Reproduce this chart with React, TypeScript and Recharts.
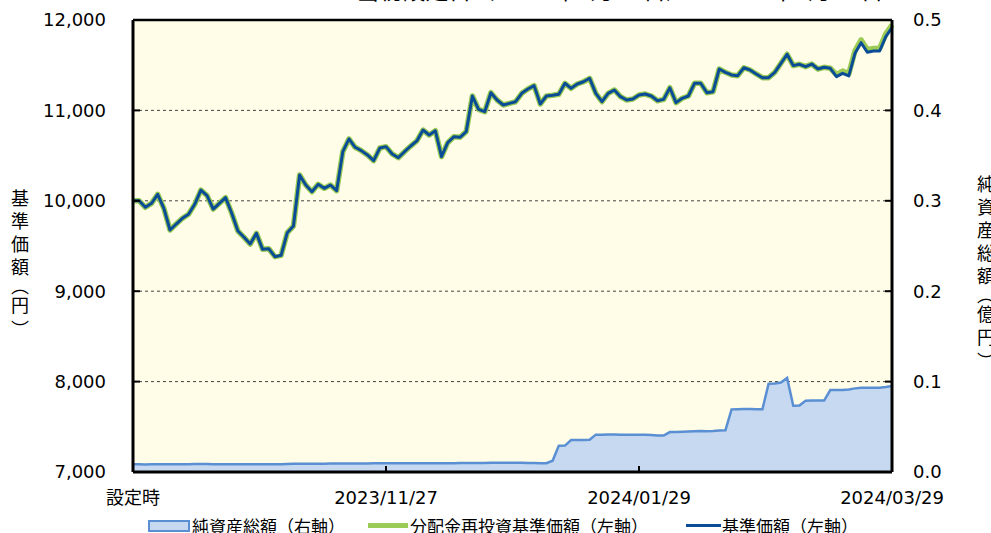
import {
  Area, CartesianGrid, ComposedChart, Line, ReferenceLine, XAxis, YAxis,
} from 'recharts';

// 基準価額 (yen), one value per business day from 設定時 to 2024/03/29
const baseNav = [
  10000, 10000, 9928, 9972, 10072, 9917, 9677, 9743, 9806, 9851,
  9961, 10119, 10057, 9909, 9972, 10035, 9862, 9666, 9596, 9522,
  9640, 9463, 9470, 9382, 9397, 9647, 9721, 10285, 10175, 10100,
  10182, 10138, 10175, 10112, 10543, 10684, 10592, 10555, 10507, 10444,
  10584, 10599, 10518, 10477, 10543, 10606, 10662, 10783, 10728, 10775,
  10488, 10643, 10709, 10702, 10765, 11159, 11012, 10986, 11196, 11115,
  11060, 11078, 11096, 11189, 11237, 11274, 11071, 11159, 11167, 11178,
  11300, 11244, 11292, 11317, 11355, 11189, 11096, 11189, 11226, 11152,
  11115, 11126, 11170, 11181, 11159, 11107, 11122, 11251, 11086, 11134,
  11159, 11300, 11300, 11196, 11207, 11458, 11421, 11392, 11384, 11472,
  11447, 11403, 11362, 11362, 11421, 11521, 11621, 11495, 11510, 11484,
  11513, 11458, 11477, 11466, 11373, 11410, 11381, 11631, 11749, 11643,
  11657, 11657, 11816, 11915,
];

// 分配金再投資基準価額 (yen)
const reinvestNav = [
  10000, 10000, 9928, 9972, 10072, 9917, 9677, 9743, 9806, 9851,
  9961, 10119, 10057, 9909, 9972, 10035, 9862, 9666, 9596, 9522,
  9640, 9463, 9470, 9382, 9397, 9647, 9721, 10285, 10175, 10100,
  10182, 10138, 10175, 10112, 10543, 10684, 10592, 10555, 10507, 10444,
  10584, 10599, 10518, 10477, 10543, 10606, 10662, 10783, 10728, 10775,
  10488, 10643, 10709, 10702, 10765, 11159, 11012, 10986, 11196, 11115,
  11060, 11078, 11096, 11189, 11237, 11274, 11071, 11159, 11167, 11178,
  11300, 11244, 11292, 11317, 11355, 11189, 11096, 11189, 11226, 11152,
  11115, 11126, 11170, 11181, 11159, 11107, 11122, 11251, 11086, 11134,
  11159, 11300, 11300, 11196, 11207, 11458, 11421, 11392, 11384, 11472,
  11447, 11403, 11362, 11362, 11421, 11521, 11621, 11495, 11510, 11484,
  11513, 11458, 11477, 11466, 11395, 11435, 11405, 11660, 11780, 11672,
  11686, 11686, 11846, 11945,
];

// 純資産総額 (億円)
const netAssets = [
  0.0085, 0.0085, 0.0084, 0.0085, 0.0086, 0.0086, 0.0085, 0.0086, 0.0087, 0.0087,
  0.0088, 0.0089, 0.0088, 0.0087, 0.0087, 0.0086, 0.0086, 0.0086, 0.0086, 0.0086,
  0.0086, 0.0086, 0.0086, 0.0086, 0.0087, 0.0089, 0.0090, 0.0092, 0.0092, 0.0091,
  0.0091, 0.0092, 0.0093, 0.0094, 0.0094, 0.0095, 0.0095, 0.0094, 0.0095, 0.0096,
  0.0096, 0.0096, 0.0096, 0.0097, 0.0097, 0.0097, 0.0098, 0.0098, 0.0098, 0.0097,
  0.0097, 0.0098, 0.0098, 0.0099, 0.0099, 0.0100, 0.0100, 0.0100, 0.0101, 0.0101,
  0.0101, 0.0102, 0.0102, 0.0101, 0.0100, 0.0099, 0.0098, 0.0098, 0.0125, 0.0290,
  0.0292, 0.0354, 0.0355, 0.0355, 0.0356, 0.0413, 0.0413, 0.0414, 0.0414, 0.0413,
  0.0412, 0.0412, 0.0412, 0.0411, 0.0410, 0.0405, 0.0403, 0.0442, 0.0443, 0.0446,
  0.0449, 0.0452, 0.0453, 0.0452, 0.0454, 0.0458, 0.0461, 0.0693, 0.0695, 0.0696,
  0.0696, 0.0694, 0.0693, 0.0977, 0.0979, 0.0990, 0.1040, 0.0733, 0.0735, 0.0789,
  0.0790, 0.0790, 0.0790, 0.0907, 0.0907, 0.0908, 0.0912, 0.0925, 0.0933, 0.0933,
  0.0932, 0.0933, 0.0940, 0.0952,
];

const xTickIndex = [0, 41, 82, 123];
const xTickLabels = ['設定時', '2023/11/27', '2024/01/29', '2024/03/29'];
const leftTicks = [7000, 8000, 9000, 10000, 11000, 12000];
const rightTicks = [0, 0.1, 0.2, 0.3, 0.4, 0.5];

const data = baseNav.map((nav, i) => ({
  i,
  nav,
  reinvest: reinvestNav[i],
  assets: netAssets[i],
}));

const FONT = "'DejaVu Sans', 'Noto Sans CJK JP', sans-serif";
const CJK = "'Noto Sans CJK JP', sans-serif";
const tickStyle = { fill: '#000', fontSize: 18, fontFamily: FONT };

const verticalTitle: React.CSSProperties = {
  position: 'absolute',
  writingMode: 'vertical-rl',
  fontFamily: CJK,
  fontSize: 18,
  letterSpacing: 5,
  lineHeight: 1,
  color: '#000',
  whiteSpace: 'nowrap',
};
// vertical bracket glyphs sit at one end of their em box; pull them in a little
const openParen: React.CSSProperties = { letterSpacing: -3, position: 'relative', top: -4 };
const closeParen: React.CSSProperties = { letterSpacing: -3, position: 'relative', top: 1 };

const legendText: React.CSSProperties = {
  position: 'absolute',
  top: 516,
  fontFamily: CJK,
  fontSize: 17,
  lineHeight: '20px',
  color: '#000',
  whiteSpace: 'nowrap',
};

export default function App() {
  return (
    <div
      style={{
        position: 'absolute', left: 0, top: 0, width: 991, height: 533,
        overflow: 'hidden', background: '#fff',
      }}
    >
      <div
        style={{
          position: 'absolute', left: 0, width: 1240, top: -20, textAlign: 'center',
          fontFamily: FONT, fontSize: 23, lineHeight: 1, whiteSpace: 'nowrap',
        }}
      >
        当初設定日（2023年9月29日）～2024年3月29日
      </div>

      <ComposedChart
        width={991}
        height={533}
        data={data}
        margin={{ top: 20, right: 0, bottom: 21, left: 0 }}
      >
        <CartesianGrid
          yAxisId="left"
          vertical={false}
          fill="#FFFDE8"
          stroke="#444"
          strokeDasharray="3 3"
        />
        <XAxis
          dataKey="i"
          type="number"
          domain={[0, 123]}
          ticks={xTickIndex}
          tickFormatter={(v: number) => xTickLabels[xTickIndex.indexOf(v)] ?? ''}
          interval={0}
          height={40}
          tick={tickStyle}
          tickSize={-6}
          tickMargin={25}
          tickLine={{ stroke: '#000', strokeWidth: 2 }}
          axisLine={{ stroke: '#000', strokeWidth: 3 }}
        />
        <YAxis
          yAxisId="left"
          domain={[7000, 12000]}
          ticks={leftTicks}
          width={133}
          tick={tickStyle}
          tickSize={-7}
          tickMargin={34}
          tickFormatter={(v: number) => v.toLocaleString('en-US')}
          tickLine={{ stroke: '#000', strokeWidth: 2 }}
          axisLine={{ stroke: '#000', strokeWidth: 3 }}
        />
        <YAxis
          yAxisId="right"
          orientation="right"
          domain={[0, 0.5]}
          ticks={rightTicks}
          width={99}
          tick={{ ...tickStyle, textAnchor: 'start' }}
          tickSize={-7}
          tickMargin={28}
          tickFormatter={(v: number) => v.toFixed(1)}
          tickLine={{ stroke: '#000', strokeWidth: 2 }}
          axisLine={{ stroke: '#000', strokeWidth: 3 }}
        />
        <Area
          yAxisId="right"
          type="linear"
          dataKey="assets"
          fill="#C6D9F0"
          fillOpacity={1}
          stroke="#5A8FD3"
          strokeWidth={2.5}
          isAnimationActive={false}
        />
        <Line
          yAxisId="left"
          type="linear"
          dataKey="reinvest"
          stroke="#9CCB55"
          strokeWidth={5.5}
          strokeLinejoin="round"
          dot={false}
          isAnimationActive={false}
        />
        <Line
          yAxisId="left"
          type="linear"
          dataKey="nav"
          stroke="#0B4C97"
          strokeWidth={3}
          strokeLinejoin="round"
          dot={false}
          isAnimationActive={false}
        />
        <ReferenceLine yAxisId="left" y={12000} stroke="#000" strokeWidth={2.5} />
      </ComposedChart>

      <div style={{ ...verticalTitle, left: 11, top: 189 }}>
        基準価額<span style={openParen}>（</span>円<span style={closeParen}>）</span>
      </div>
      <div style={{ ...verticalTitle, left: 977, top: 175 }}>
        純資産総額<span style={openParen}>（</span>億円<span style={closeParen}>）</span>
      </div>

      <div
        style={{
          position: 'absolute', left: 148, top: 520, width: 38, height: 8,
          background: '#C6D9F0', border: '2px solid #5A8FD3',
        }}
      />
      <div style={{ ...legendText, left: 192 }}>純資産総額（右軸）</div>
      <div
        style={{
          position: 'absolute', left: 368, top: 523, width: 40, height: 5,
          background: '#9CCB55',
        }}
      />
      <div style={{ ...legendText, left: 410 }}>分配金再投資基準価額（左軸）</div>
      <div
        style={{
          position: 'absolute', left: 686, top: 524, width: 35, height: 3,
          background: '#0B4C97',
        }}
      />
      <div style={{ ...legendText, left: 722 }}>基準価額（左軸）</div>
    </div>
  );
}
